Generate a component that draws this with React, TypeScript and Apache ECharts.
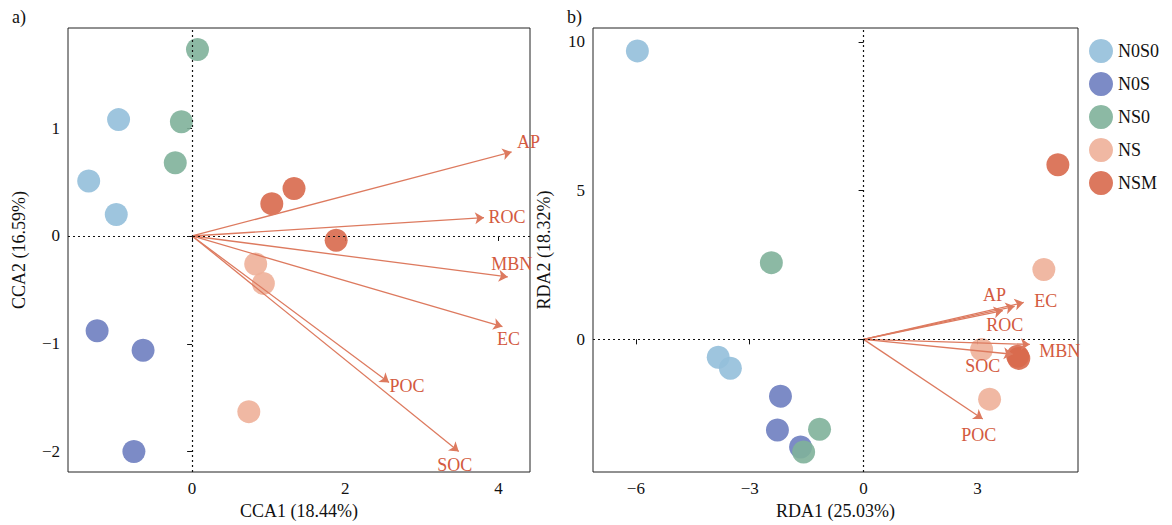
import React, { useEffect, useRef } from "react";
import * as echarts from "echarts";

const groups = ["N0S0", "N0S", "NS0", "NS", "NSM"];
const colors = ["#93bfda", "#6e7ec0", "#7fb19a", "#eeb099", "#d8694d"];
const ccaPoints: number[][][] = [
  [[-0.96, 1.08], [-1.35, 0.51], [-0.99, 0.20]],
  [[-1.24, -0.88], [-0.64, -1.06], [-0.76, -2.0]],
  [[0.07, 1.73], [-0.14, 1.06], [-0.22, 0.68]],
  [[0.83, -0.26], [0.93, -0.44], [0.74, -1.63]],
  [[1.04, 0.30], [1.33, 0.44], [1.88, -0.04]],
];
const rdaPoints: number[][][] = [
  [[-5.96, 9.70], [-3.83, -0.60], [-3.51, -0.97]],
  [[-2.19, -1.91], [-2.27, -3.05], [-1.66, -3.62]],
  [[-2.43, 2.58], [-1.16, -3.02], [-1.58, -3.79]],
  [[4.75, 2.35], [3.11, -0.34], [3.32, -2.01]],
  [[5.12, 5.87], [4.06, -0.57], [4.09, -0.64]],
];
const vars = ["AP", "ROC", "MBN", "EC", "POC", "SOC"];
const ccaArrows = [[4.17, 0.78], [3.81, 0.17], [4.12, -0.38], [4.05, -0.84], [2.57, -1.36], [3.48, -2.0]];
const rdaArrows = [[3.98, 1.11], [3.67, 0.97], [4.38, -0.17], [4.22, 1.24], [3.14, -2.68], [3.93, -0.5]];
const ccaLabelOffsets = [[17, -10], [23, -1], [4, -13], [6, 12], [18, 3], [-4, 13]];
const rdaLabelOffsets = [[-20, -11], [2, 14], [30, 7], [22, -1], [-4, 16], [-30, 12]];
const ccaXTicks = [0, 2, 4];
const ccaYTicks = [-2, -1, 0, 1];
const rdaXTicks = [-6, -3, 0, 3];
const rdaYTicks = [0, 5, 10];

const font = "Liberation Serif";
const arrowColor = "#dd7a5f";
const labelColor = "#d35a40";
const fmt = (v: number) => String(v).replace("-", "−");

function axis(idx: number, min: number, max: number, ticks: number[], name: string, isX: boolean) {
  return {
    gridIndex: idx, type: "value", min, max,
    name, nameLocation: "middle", nameGap: isX ? 30 : 40,
    nameTextStyle: { fontFamily: font, fontSize: 18, color: "#111" },
    splitLine: { show: false },
    axisLine: { show: false },
    axisTick: { show: true, inside: false, length: 5, customValues: ticks, lineStyle: { color: "#111" } },
    axisLabel: { customValues: ticks, formatter: fmt, fontFamily: font, fontSize: 17, color: "#111", margin: 8 },
  };
}

function panelSeries(idx: number, pts: number[][][], arrows: number[][], offs: number[][]) {
  const s: any[] = [];
  groups.forEach((g, i) => {
    s.push({
      type: "scatter", name: g, xAxisIndex: idx, yAxisIndex: idx, data: pts[i],
      symbolSize: 23, itemStyle: { color: colors[i], opacity: 0.9 }, z: 3,
    });
  });
  s.push({
    type: "lines", coordinateSystem: "cartesian2d", xAxisIndex: idx, yAxisIndex: idx,
    symbol: ["none", "arrow"], symbolSize: 9,
    lineStyle: { color: arrowColor, width: 1.3, opacity: 1 },
    data: arrows.map((a) => ({ coords: [[0, 0], a] })), z: 4,
  });
  s.push({
    type: "scatter", xAxisIndex: idx, yAxisIndex: idx, symbolSize: 0, z: 5,
    itemStyle: { opacity: 1 },
    data: arrows.map((a, i) => ({
      value: a,
      label: { show: true, formatter: vars[i], offset: offs[i], position: "inside", color: labelColor, opacity: 1, fontFamily: font, fontSize: 18 },
    })),
    markLine: {
      silent: true, symbol: "none", label: { show: false },
      lineStyle: { color: "#111", type: [2, 3], width: 1.2 },
      data: [{ xAxis: 0 }, { yAxis: 0 }],
    },
  });
  return s;
}

export default function App() {
  const ref = useRef<HTMLDivElement>(null);
  useEffect(() => {
    document.body.style.margin = "0";
    const chart = echarts.init(ref.current!, null, { renderer: "svg" });
    chart.setOption({
      animation: false,
      backgroundColor: "#fff",
      grid: [
        { left: 68, top: 28, width: 462, height: 445, show: true, borderColor: "#222", borderWidth: 1 },
        { left: 593, top: 28, width: 485, height: 445, show: true, borderColor: "#222", borderWidth: 1 },
      ],
      xAxis: [axis(0, -1.62, 4.41, ccaXTicks, "CCA1 (18.44%)", true), axis(1, -7.13, 5.65, rdaXTicks, "RDA1 (25.03%)", true)],
      yAxis: [axis(0, -2.19, 1.93, ccaYTicks, "CCA2 (16.59%)", false), axis(1, -4.46, 10.47, rdaYTicks, "RDA2 (18.32%)", false)],
      legend: {
        data: groups, orient: "vertical", left: 1084, top: 34, itemGap: 9,
        itemWidth: 24, itemHeight: 24, icon: "circle",
        textStyle: { fontFamily: font, fontSize: 18, color: "#111" },
      },
      graphic: [
        { type: "text", left: 12, top: 8, style: { text: "a)", font: `18px ${font}`, fill: "#111" } },
        { type: "text", left: 567, top: 8, style: { text: "b)", font: `18px ${font}`, fill: "#111" } },
      ],
      series: [
        ...panelSeries(0, ccaPoints, ccaArrows, ccaLabelOffsets),
        ...panelSeries(1, rdaPoints, rdaArrows, rdaLabelOffsets),
      ],
    });
    return () => chart.dispose();
  }, []);
  return <div ref={ref} style={{ width: 1172, height: 525 }} />;
}
